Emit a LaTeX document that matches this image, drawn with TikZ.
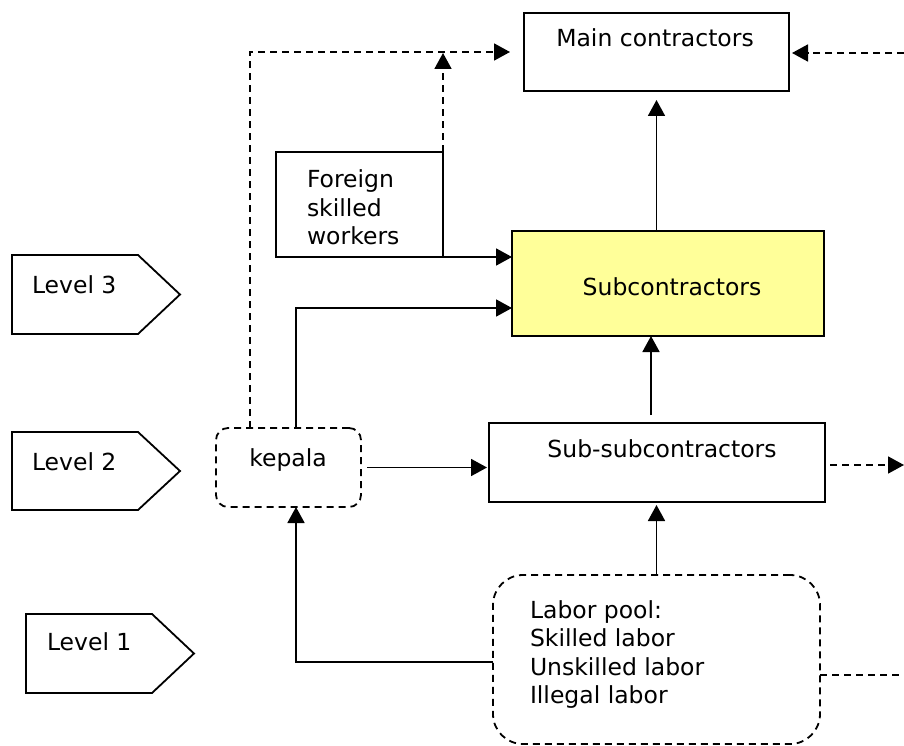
\documentclass[tikz,border=0pt]{standalone}
\usepackage{fontspec}
\setmainfont{DejaVu Sans}
\usetikzlibrary{arrows.meta}
\definecolor{subyellow}{HTML}{FFFF99}
\begin{document}
\begin{tikzpicture}[x=1pt,y=-1pt,
  every node/.style={inner sep=0pt, outer sep=0pt},
  box/.style={draw, line width=1.8pt},
  dbox/.style={draw, line width=1.8pt, dash pattern=on 7pt off 5pt},
  txt/.style={font=\fontsize{23.5}{28.5}\selectfont, text height=17pt, text depth=0pt},
  mtxt/.style={font=\fontsize{23.5}{28.5}\selectfont, align=left, anchor=west},
  arr/.style={line width=1.8pt, -{Triangle[length=16pt,width=17pt]}},
  darr/.style={arr, dash pattern=on 7pt off 5pt},
  dline/.style={line width=1.8pt, dash pattern=on 7pt off 5pt},
  level/.style={draw, line width=1.8pt}
]
\useasboundingbox (0,0) rectangle (904,746);

% boxes
\node[box, minimum width=265pt, minimum height=78pt] (main) at (656.5,52) {};
\node[txt] (maint) at (655,38) {Main contractors};

\node[box, minimum width=167pt, minimum height=105pt] (foreign) at (359.5,204.5) {};
\node[mtxt] (foreignt) at (307,207.5) {Foreign\\skilled\\workers};

\node[box, fill=subyellow, minimum width=312pt, minimum height=105pt] (sub) at (668,283.5) {};
\node[txt] (subt) at (672,287) {Subcontractors};

\node[box, minimum width=336pt, minimum height=79pt] (subsub) at (657,462.5) {};
\node[txt] (subsubt) at (662,449) {Sub-subcontractors};

\node[dbox, rounded corners=12pt, minimum width=145pt, minimum height=79pt] (kepala) at (288.5,467.5) {};
\node[txt] (kepalat) at (288,458) {kepala};

\node[dbox, rounded corners=30pt, minimum width=327pt, minimum height=169pt] (labor) at (656.5,659.5) {};
\node[mtxt] (labort) at (530,654.5) {Labor pool:\\Skilled labor\\Unskilled labor\\Illegal labor};

% level markers
\draw[level] (12,255) -- (138,255) -- (180,294.5) -- (138,334) -- (12,334) -- cycle;
\node[txt, anchor=west] (lv3) at (32,285) {Level 3};
\draw[level] (12,432) -- (138,432) -- (180,471) -- (138,510) -- (12,510) -- cycle;
\node[txt, anchor=west] (lv2) at (32,462) {Level 2};
\draw[level] (26,614) -- (152,614) -- (194,653.5) -- (152,693) -- (26,693) -- cycle;
\node[txt, anchor=west] (lv1) at (47,642) {Level 1};

% free ends at the right border
\coordinate (rtop) at (904,53);
\coordinate (rmid) at (904,465);
\coordinate (rlow) at (904,675);

% solid connectors
\draw[arr, shorten >=9pt] (main.south |- sub.north) -- (main.south);
\draw[arr] ([xshift=-6pt,yshift=8pt]subsub.north) coordinate (s1) -- (s1 |- sub.south);
\draw[arr, shorten >=3pt] (labor.north) -- (labor.north |- subsub.south);
\draw[arr, shorten <=6pt, shorten >=2pt] (kepala.east) -- (kepala.east -| subsub.west);
\draw[arr] (foreign.south east) -- (foreign.south east -| sub.west);
\draw[arr] ([xshift=7.5pt]kepala.north) |- ([yshift=-24.5pt]sub.west);
\draw[arr] ([yshift=-2.5pt]labor.west) -| ([xshift=7.5pt]kepala.south);

% dashed connectors
\draw[darr, shorten >=14pt] ([xshift=-38.5pt]kepala.north) |- (main.west);
\draw[darr, shorten >=1pt] (foreign.north east) -- (foreign.north east |- main.west);
\draw[darr, shorten >=3pt] (rtop) -- (rtop -| main.east);
\draw[darr, shorten <=5pt] (subsub.east |- rmid) -- (rmid);
\draw[dline] (labor.east |- rlow) -- (rlow);
\end{tikzpicture}
\end{document}
